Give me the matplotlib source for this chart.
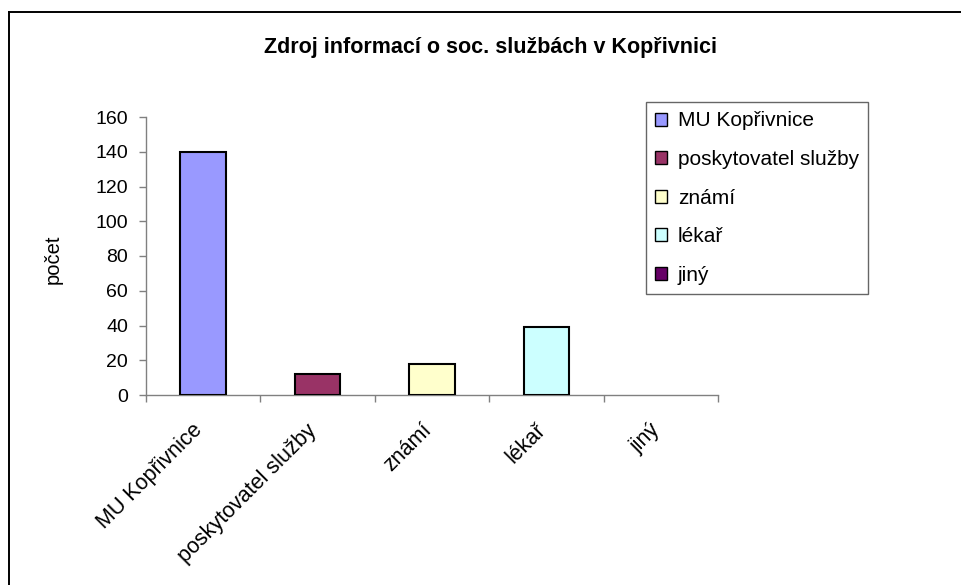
import matplotlib
matplotlib.use("Agg")
import matplotlib.pyplot as plt
from matplotlib.patches import Patch
from matplotlib.lines import Line2D

plt.rcParams['font.family'] = ['Liberation Sans', 'DejaVu Sans']

categories = ["MU Kopřivnice", "poskytovatel služby", "známí", "lékař", "jiný"]
values = [140, 12, 18, 39, 0]
colors = ["#9999FF", "#993366", "#FFFFCC", "#CCFFFF", "#660066"]
yticks = [0, 20, 40, 60, 80, 100, 120, 140, 160]
title = "Zdroj informací o soc. službách v Kopřivnici"
ylabel = "počet"

W, H = 962, 585
fig = plt.figure(figsize=(W / 100, H / 100), dpi=100)
fig.patch.set_facecolor("white")

ax = fig.add_axes([146 / W, 1 - 395 / H, (718 - 146) / W, (395 - 117) / H])
x = list(range(len(categories)))
edge_widths = [1.5 if v > 0 else 0 for v in values]
ax.bar(x, values, width=0.4, color=colors, edgecolor="black", linewidth=edge_widths, zorder=3)
ax.set_xlim(-0.5, len(categories) - 0.5)
ax.set_ylim(0, 160)
ax.set_yticks(yticks)
ax.set_yticklabels([str(v) for v in yticks], fontsize=14)
ax.set_xticks([i - 0.5 for i in range(len(categories) + 1)], minor=False)
ax.set_xticklabels([])
ax.set_xticks(x, minor=True)
ax.set_xticklabels(categories, minor=True, rotation=45, ha="right", va="baseline",
                   rotation_mode="anchor", fontsize=15.5)
ax.tick_params(axis="x", which="minor", length=0, pad=26)
ax.tick_params(axis="x", which="major", length=5, width=1, color="#808080", direction="out")
ax.tick_params(axis="y", length=5, width=1, color="#808080", direction="out", pad=8)
for s in ["top", "right"]:
    ax.spines[s].set_visible(False)
for s in ["left", "bottom"]:
    ax.spines[s].set_color("#808080")
    ax.spines[s].set_linewidth(1)

fig.text(53 / W, 1 - 259 / H, ylabel, rotation=90, ha="center", va="center", fontsize=14.5)
fig.text(491 / W, 1 - 48 / H, title, ha="center", va="center", fontsize=15.5, fontweight="bold")

handles = [Patch(facecolor=c, edgecolor="black", linewidth=1) for c in colors]
leg = fig.legend(handles, categories, loc="upper left",
                 bbox_to_anchor=(646 / W, 1 - 102 / H), fontsize=15,
                 frameon=True, fancybox=False, shadow=False,
                 handlelength=0.58, handleheight=0.58, handletextpad=0.5,
                 labelspacing=0.94, borderpad=0.45, borderaxespad=0)
leg.get_frame().set_edgecolor("#404040")
leg.get_frame().set_linewidth(1)

# outer chart border (top and left edges visible)
fig.add_artist(Line2D([9 / W, 1.0], [1 - 12 / H, 1 - 12 / H], color="black", lw=1.4,
                      transform=fig.transFigure))
fig.add_artist(Line2D([9 / W, 9 / W], [0, 1 - 12 / H], color="black", lw=1.4,
                      transform=fig.transFigure))

fig.savefig("out.png", dpi=100, facecolor="white")
